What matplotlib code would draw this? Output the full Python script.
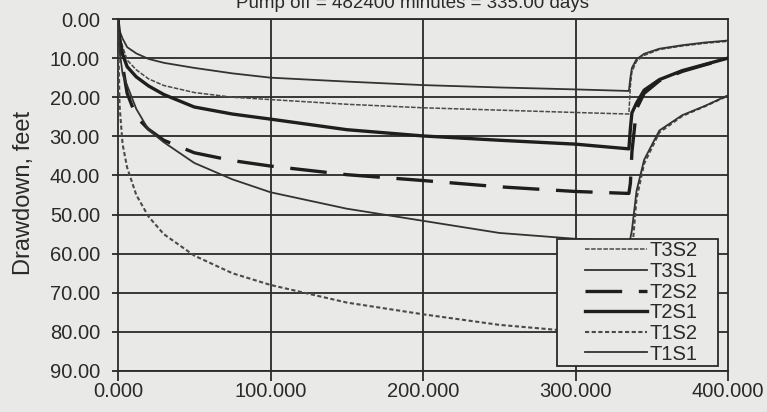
import numpy as np
import matplotlib
matplotlib.use('Agg')
import matplotlib.pyplot as plt
from matplotlib.patches import Rectangle
from matplotlib.ticker import FormatStrFormatter

plt.rcParams['font.family'] = ['Liberation Sans', 'DejaVu Sans']
plt.rcParams['axes.unicode_minus'] = False

BG = '#e9e9e7'
INK = '#2a2a2a'

TITLE = 'Pump off = 482400 minutes = 335.00 days'

# time since start of pumping, days
DAYS = [0, 1, 3, 6, 12, 20, 30, 50, 75, 100, 150, 200, 250, 300, 335,
        336, 337, 340, 345, 355, 370, 385, 400]

# drawdown, feet
T3S2 = [0, 4.0, 7.0, 10.5, 13.0, 15.3, 17.0, 18.8, 20.0, 20.6, 21.8, 22.7, 23.3, 23.9, 24.3,
        17.0, 13.5, 10.8, 9.3, 7.8, 6.9, 6.2, 5.7]
T3S1 = [0, 3.0, 5.0, 7.2, 8.8, 10.2, 11.2, 12.5, 13.9, 15.0, 16.0, 16.9, 17.5, 18.0, 18.4,
        15.0, 12.5, 10.3, 8.9, 7.6, 6.7, 6.0, 5.5]
T2S2 = [0, 6.0, 12.0, 19.0, 25.0, 28.2, 31.0, 34.2, 36.2, 37.6, 39.8, 41.3, 42.9, 44.1, 44.6,
        42.0, 34.0, 23.0, 19.0, 15.8, 13.4, 11.7, 10.1]
T2S1 = [0, 5.0, 9.0, 12.2, 14.8, 17.1, 19.3, 22.5, 24.3, 25.6, 28.3, 29.9, 31.0, 32.0, 33.2,
        28.0, 24.0, 21.5, 18.2, 15.5, 13.2, 11.6, 10.0]
T1S2 = [0, 22.0, 32.0, 38.0, 45.0, 50.5, 55.0, 60.5, 65.0, 68.0, 72.5, 75.5, 78.2, 79.9, 81.0,
        70.0, 60.0, 46.0, 37.0, 29.0, 24.8, 22.3, 19.6]
T1S1 = [0, 8.0, 14.0, 17.0, 23.0, 28.3, 31.5, 36.8, 41.0, 44.3, 48.5, 51.6, 54.7, 56.2, 56.8,
        56.0, 54.0, 44.0, 36.0, 28.5, 24.6, 22.2, 19.5]

SERIES = [
    ('T3S2', T3S2, dict(color='#4a4a4a', lw=1.1, ls=(0, (3, 1)))),
    ('T3S1', T3S1, dict(color='#333333', lw=1.3, ls='-')),
    ('T2S2', T2S2, dict(color='#1e1e1e', lw=2.4, ls=(0, (11, 5)))),
    ('T2S1', T2S1, dict(color='#1e1e1e', lw=2.4, ls='-')),
    ('T1S2', T1S2, dict(color='#4a4a4a', lw=1.5, ls=(0, (2, 1.2)))),
    ('T1S1', T1S1, dict(color='#333333', lw=1.3, ls='-')),
]

Y_TICKS = np.arange(0, 91, 10)
X_TICKS = [0, 100, 200, 300, 400]


def main():
    fig = plt.figure(figsize=(7.67, 4.12), dpi=100, facecolor=BG)
    ax = fig.add_axes([118 / 767, 41 / 412, 610 / 767, 352 / 412], facecolor=BG)

    for y in Y_TICKS:
        ax.axhline(y, color=INK, lw=1.3, zorder=1)
    for x in X_TICKS[1:-1]:
        ax.axvline(x, color=INK, lw=1.3, zorder=1)

    for name, vals, st in SERIES:
        ax.plot(DAYS, vals, label=name, zorder=3, **st)

    ax.set_xlim(0, 400)
    ax.set_ylim(90, 0)
    ax.set_xticks(X_TICKS)
    ax.set_yticks(Y_TICKS)
    ax.xaxis.set_major_formatter(FormatStrFormatter('%.3f'))
    ax.yaxis.set_major_formatter(FormatStrFormatter('%.2f'))
    ax.tick_params(axis='x', direction='out', length=7, width=1.3, color=INK,
                   labelsize=14.5, labelcolor=INK, pad=1)
    ax.tick_params(axis='y', direction='out', length=4, width=1.3, color=INK,
                   labelsize=14.5, labelcolor=INK, pad=9)
    for sp in ax.spines.values():
        sp.set_color(INK)
        sp.set_linewidth(1.3)

    # legend box drawn by hand, it is wider than its content in the original
    box = Rectangle(((557 - 118) / 610, (371 - 366) / 352), 161 / 610, 127 / 352,
                    transform=ax.transAxes, facecolor=BG, edgecolor=INK, lw=1.3,
                    zorder=4)
    ax.add_patch(box)
    leg = ax.legend(loc='center', bbox_to_anchor=((641 - 118) / 610, (371 - 302.5) / 352),
                    borderaxespad=0, borderpad=0, fontsize=14.5, handlelength=3.1,
                    handletextpad=0.1, labelspacing=0.08, frameon=False,
                    labelcolor=INK)
    leg.set_zorder(5)

    fig.text(24 / 767, 1 - 193 / 412, 'Drawdown, feet', rotation=90,
             ha='center', va='center', fontsize=17, color=INK)
    fig.text(413 / 767, 1 - 8 / 412, TITLE, ha='center', va='baseline',
             fontsize=13.5, color=INK)

    fig.savefig('out.png', dpi=100, facecolor=BG)
    plt.close(fig)


if __name__ == '__main__':
    main()
